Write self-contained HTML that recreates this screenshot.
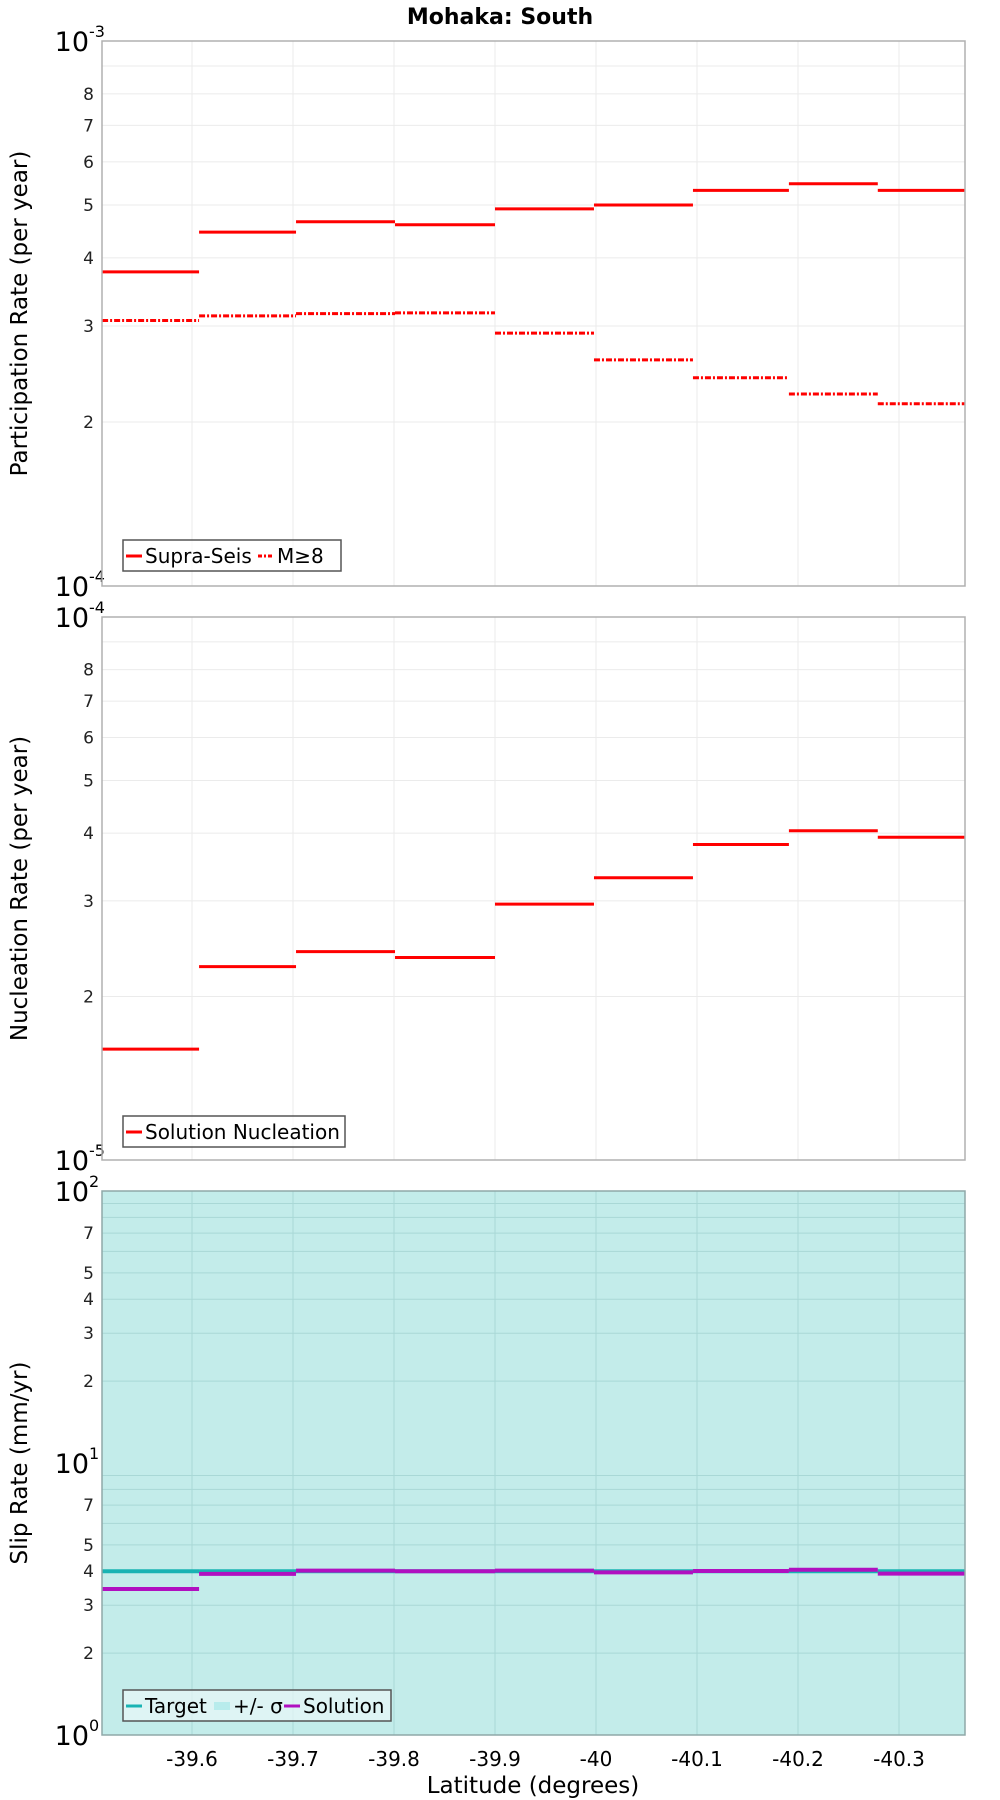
<!DOCTYPE html>
<html><head><meta charset="utf-8"><style>
body{margin:0;background:#fff}
svg{display:block;font-family:"DejaVu Sans","Liberation Sans",sans-serif}
</style></head><body>
<svg id="c" width="1000" height="1800" viewBox="0 0 1000 1800">
<text x="500" y="24" text-anchor="middle" font-size="22" font-weight="bold">Mohaka: South</text>
</svg>
<script>
const binEdges = [-39.511,-39.607,-39.703,-39.801,-39.9,-39.998,-40.096,-40.191,-40.279,-40.365];
const supraSeis = [3.77e-4,4.46e-4,4.66e-4,4.6e-4,4.92e-4,5.0e-4,5.32e-4,5.47e-4,5.32e-4];
const m8 = [3.07e-4,3.13e-4,3.16e-4,3.17e-4,2.91e-4,2.6e-4,2.41e-4,2.25e-4,2.16e-4];
const nucleation = [1.6e-5,2.27e-5,2.42e-5,2.36e-5,2.96e-5,3.31e-5,3.81e-5,4.04e-5,3.93e-5];
const slipTarget = [4.0,4.0,4.0,4.0,4.0,4.0,4.0,4.0,4.0];
const slipSolution = [3.44,3.91,4.02,4.0,4.02,3.96,4.01,4.05,3.92];
const xTicks = [-39.6,-39.7,-39.8,-39.9,-40,-40.1,-40.2,-40.3];
const xTickLabels = ["-39.6","-39.7","-39.8","-39.9","-40","-40.1","-40.2","-40.3"];

const NS="http://www.w3.org/2000/svg";
const svg=document.getElementById('c');
const L=102,R=965;
function xs(lat){return 192+(-lat-39.6)/0.1*101;}
function mk(tag,attrs,parent){const e=document.createElementNS(NS,tag);for(const k in attrs)e.setAttribute(k,attrs[k]);(parent||svg).appendChild(e);return e;}

function panel(name,top,bot,lo,hi,minorLabels,bg,title){
  const g=mk('g',{});
  
  
  const ys=v=>bot-(Math.log10(v)-lo)/(hi-lo)*(bot-top);
  mk('rect',{x:L,y:top,width:R-L,height:bot-top,fill:bg},g);
  const gc=bg==='#fff'?'#ebebeb':'#a9d8d6';
  for(let d=lo;d<hi;d++){for(let m=2;m<=9;m++){const y=ys(m*Math.pow(10,d));
    const gl=mk('line',{x1:L,x2:R,y1:y,y2:y,stroke:gc,'stroke-width':1},g);
    
    if(minorLabels.includes(m)){const t=mk('text',{x:L-8,y:y+6,'text-anchor':'end','font-size':17,fill:'#222'},g);t.textContent=m;
      }}}
  for(let d=lo;d<=hi;d++){const y=ys(Math.pow(10,d));
    const t=mk('text',{x:L-13,y:y+10,'text-anchor':'end','font-size':27},g);t.textContent='10';
    
    const s=mk('text',{x:L-13,y:y-4,'font-size':16},g);s.textContent=d;
    }
  xTicks.forEach(v=>{const x=xs(v);const gl=mk('line',{x1:x,x2:x,y1:top,y2:bot,stroke:gc,'stroke-width':1},g);
    });
  const ttl=mk('text',{x:0,y:0,'text-anchor':'middle','font-size':23,transform:`translate(27,${(top+bot)/2}) rotate(-90)`},g);
  ttl.textContent=title;
  return {g,ys,top,bot};
}
function steps(p,vals,color,width,dash,name){
  vals.forEach((v,i)=>{const y=p.ys(v);
    const l=mk('line',{x1:xs(binEdges[i]),x2:xs(binEdges[i+1]),y1:y,y2:y,stroke:color,'stroke-width':width},p.g);
    if(dash)l.setAttribute('stroke-dasharray',dash);
    });
}
function frame(p,col){const f=mk('rect',{x:L,y:p.top,width:R-L,height:p.bot-p.top,fill:'none',stroke:col,'stroke-width':1.5},p.g);
  }
function legend(p,x,y,w,items){
  const lg=mk('g',{},p.g);
  mk('rect',{x:x,y:y,width:w,height:31,fill:p.bg||'#fff','fill-opacity':0.7,stroke:'#555','stroke-width':1.5},lg);
  items.forEach(it=>{const ln=mk('line',{x1:it.x,x2:it.x+16,y1:y+16,y2:y+16,stroke:it.c,'stroke-width':it.w||3},lg);
    if(it.d)ln.setAttribute('stroke-dasharray',it.d);
    const t=mk('text',{x:it.x+19,y:y+23,'font-size':20},lg);t.textContent=it.t;
    });
}
const p1=panel('participation-panel',41,586,-4,-3,[2,3,4,5,6,7,8],'#fff','Participation Rate (per year)');
steps(p1,supraSeis,'#f00',3,null,'supra-seis-step');
steps(p1,m8,'#f00',3,'6 2 2 2','m8-step');
frame(p1,'#b0b0b0');
legend(p1,123,540,218,[{x:126,c:'#f00',t:'Supra-Seis'},{x:258,c:'#f00',t:'M≥8',d:'4 2 2 2'}]);

const p2=panel('nucleation-panel',617,1160,-5,-4,[2,3,4,5,6,7,8],'#fff','Nucleation Rate (per year)');
steps(p2,nucleation,'#f00',3,null,'nucleation-step');
frame(p2,'#b0b0b0');
legend(p2,123,1116,222,[{x:126,c:'#f00',t:'Solution Nucleation'}]);

const p3=panel('slip-rate-panel',1191,1735,0,2,[2,3,4,5,7],'#c3ecea','Slip Rate (mm/yr)');
steps(p3,slipTarget,'#19b3b3',4,null,'target-step');
steps(p3,slipSolution,'#b010c0',4,null,'solution-step');
frame(p3,'#8fa8a8');
p3.bg='#eaf8f8';
legend(p3,123,1690,268,[{x:126,c:'#19b3b3',t:'Target'},{x:214,c:'#b8ecec',w:8,t:'+/- σ'},{x:284,c:'#b010c0',t:'Solution'}]);

xTicks.forEach((v,i)=>{const t=mk('text',{x:xs(v),y:1766,'text-anchor':'middle','font-size':20});t.textContent=xTickLabels[i];
  });
const xt=mk('text',{x:533,y:1793,'text-anchor':'middle','font-size':23});xt.textContent='Latitude (degrees)';

</script>
</body></html>
